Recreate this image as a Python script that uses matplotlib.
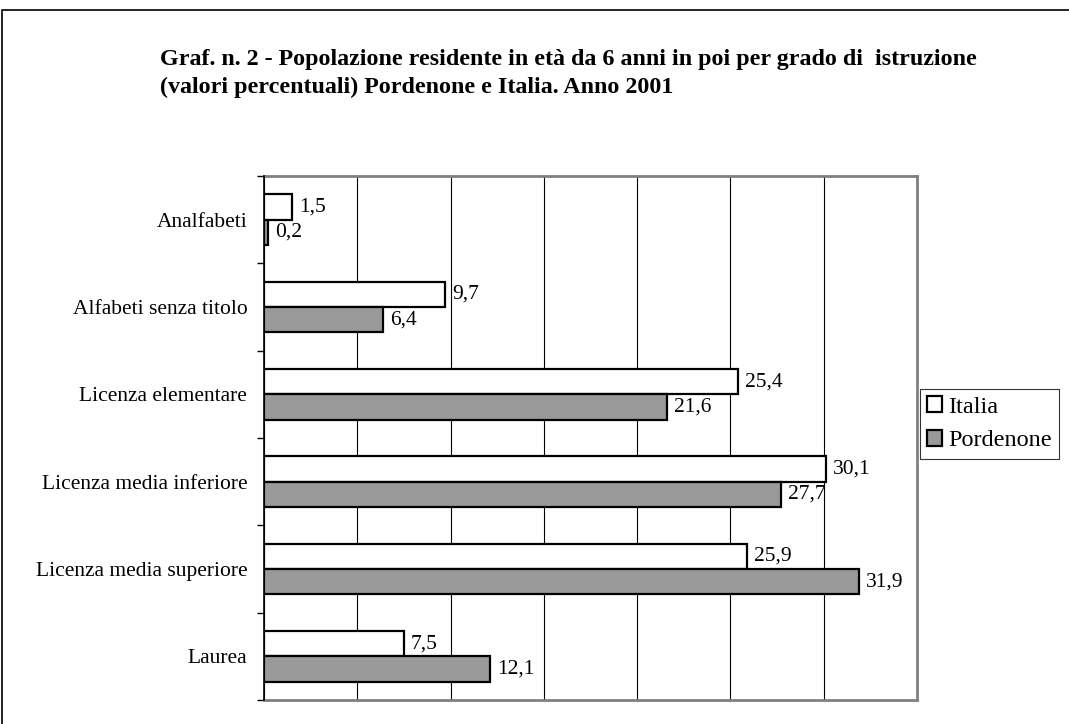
import numpy as np
import matplotlib
matplotlib.use('Agg')
import matplotlib.pyplot as plt
from matplotlib.patches import Rectangle, Patch

plt.rcParams['font.family'] = ['Liberation Serif', 'DejaVu Serif']

# data
categories = ['Analfabeti', 'Alfabeti senza titolo', 'Licenza elementare',
              'Licenza media inferiore', 'Licenza media superiore', 'Laurea']
italia = [1.5, 9.7, 25.4, 30.1, 25.9, 7.5]
pordenone = [0.2, 6.4, 21.6, 27.7, 31.9, 12.1]
series_names = ['Italia', 'Pordenone']
title_lines = ['Graf. n. 2 - Popolazione residente in età da 6 anni in poi per grado di  istruzione',
               '(valori percentuali) Pordenone e Italia. Anno 2001']

W, H = 1069, 724
fig = plt.figure(figsize=(W / 100, H / 100), dpi=100)

# outer frame
fig.patches.append(Rectangle((2 / W, -0.01), 1.2, (H - 10) / H + 0.01,
                             transform=fig.transFigure, fill=False,
                             edgecolor='black', linewidth=1.2))

for line, ybase in zip(title_lines, (65, 93)):
    fig.text(160 / W, 1 - ybase / H, line, fontsize=17.3, fontweight='bold',
             va='baseline', ha='left')

ax = fig.add_axes([264 / W, 1 - 700 / H, (917 - 264) / W, (700 - 176) / H])

y = np.arange(len(categories))
h = 0.29
b1 = ax.barh(y - h / 2, italia, height=h, color='white', edgecolor='black',
             linewidth=1.6, zorder=3)
b2 = ax.barh(y + h / 2, pordenone, height=h, color='#999999', edgecolor='black',
             linewidth=1.6, zorder=3)

for bars, vals in ((b1, italia), (b2, pordenone)):
    for bar, v in zip(bars, vals):
        ax.annotate(('%.1f' % v).replace('.', ','),
                    (v, bar.get_y() + bar.get_height() / 2),
                    xytext=(5, 0), textcoords='offset points',
                    va='center', ha='left', fontsize=15.5, zorder=4)

ax.set_xlim(0, 35)
ax.set_ylim(len(categories) - 0.5, -0.5)
ax.set_xticks(np.arange(0, 36, 5))
ax.tick_params(axis='x', length=0, labelbottom=False)
ax.grid(axis='x', color='black', linewidth=0.8, zorder=1)

ax.set_yticks(np.arange(-0.5, len(categories), 1))
ax.set_yticklabels([])
ax.set_yticks(y, minor=True)
ax.set_yticklabels(categories, minor=True, fontsize=15.5)
ax.tick_params(axis='y', which='major', direction='out', length=5, width=1)
ax.tick_params(axis='y', which='minor', length=0, pad=12)

for side in ('top', 'right', 'bottom'):
    ax.spines[side].set_color('#808080')
    ax.spines[side].set_linewidth(2)
ax.spines['left'].set_color('black')
ax.spines['left'].set_linewidth(1.2)
ax.spines['left'].set_zorder(5)

handles = [Patch(facecolor='white', edgecolor='black', linewidth=1.6),
           Patch(facecolor='#999999', edgecolor='black', linewidth=1.6)]
leg = fig.legend(handles, series_names, loc='upper left',
                 bbox_to_anchor=(920 / W, 1 - 389 / H), fontsize=17.5,
                 frameon=True, fancybox=False, handlelength=0.62,
                 handleheight=0.62, handletextpad=0.25, borderpad=0.3,
                 labelspacing=0.5, borderaxespad=0)
leg.get_frame().set_edgecolor('black')
leg.get_frame().set_linewidth(0.8)

fig.savefig('out.png', dpi=100)
